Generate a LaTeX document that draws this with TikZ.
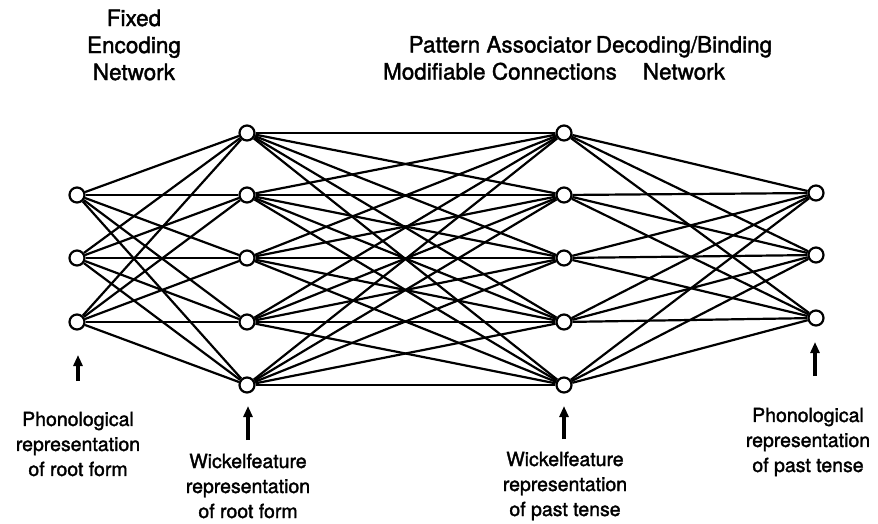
\documentclass[tikz,border=0pt]{standalone}
\usepackage{fontspec}
\newfontfamily\labfont{TeX Gyre Heros}[BoldFont={TeX Gyre Heros},BoldFeatures={FakeBold=1.6}]
\usetikzlibrary{arrows.meta}
\tikzset{
  unit/.style={circle,draw,fill=white,line width=2.2pt,minimum size=15pt,inner sep=0pt},
  link/.style={line width=2.2pt},
  uparrow/.style={line width=3.2pt,-{Triangle[length=11pt,width=9pt]}},
  toplab/.style={align=center,font=\labfont\bfseries\fontsize{22.5pt}{27pt}\selectfont,inner sep=0pt},
  botlab/.style={align=center,font=\labfont\bfseries\fontsize{19.5pt}{25pt}\selectfont,inner sep=0pt}
}
\begin{document}
\begin{tikzpicture}[x=1pt,y=-1pt]
\useasboundingbox (0,0) rectangle (878,523);
% layers
\foreach \i/\y in {1/195,2/258,3/322} \node[unit] (a\i) at (77,\y) {};
\foreach \i/\y in {1/133,2/195,3/258,4/322,5/385} \node[unit] (b\i) at (247,\y) {};
\foreach \i/\y in {1/133,2/195,3/258,4/322,5/385} \node[unit] (c\i) at (564,\y) {};
\foreach \i/\y in {1/193,2/255,3/318} \node[unit] (d\i) at (816,\y) {};
% connections
\foreach \i in {1,2,3} \foreach \j in {1,...,5} \draw[link] (a\i) -- (b\j);
\foreach \i in {1,...,5} \foreach \j in {1,...,5} \draw[link] (b\i) -- (c\j);
\foreach \i in {1,...,5} \foreach \j in {1,2,3} \draw[link] (c\i) -- (d\j);
% top labels
\node[toplab] (t1) at (134,45) {Fixed\\Encoding\\Network};
\node[toplab] (t2) at (500,58) {Pattern Associator\\Modifiable Connections};
\node[toplab] (t3) at (684,58) {Decoding/Binding\\Network};
% bottom labels
\node[botlab] (l1) at (78,444) {Phonological\\representation\\of root form};
\node[botlab] (l2) at (248,486) {Wickelfeature\\representation\\of root form};
\node[botlab] (l3) at (565,486) {Wickelfeature\\representation\\of past tense};
\node[botlab] (l4) at (808,442) {Phonological\\representation\\of past tense};
% arrows
\coordinate (p1a) at (78,381); \coordinate (p1b) at (78,355);
\coordinate (p2a) at (248,440); \coordinate (p2b) at (248,406);
\coordinate (p3a) at (564,439); \coordinate (p3b) at (564,406);
\coordinate (p4a) at (815,376); \coordinate (p4b) at (815,342);
\draw[uparrow] (p1a) -- (p1b);
\draw[uparrow] (p2a) -- (p2b);
\draw[uparrow] (p3a) -- (p3b);
\draw[uparrow] (p4a) -- (p4b);
\end{tikzpicture}
\end{document}
